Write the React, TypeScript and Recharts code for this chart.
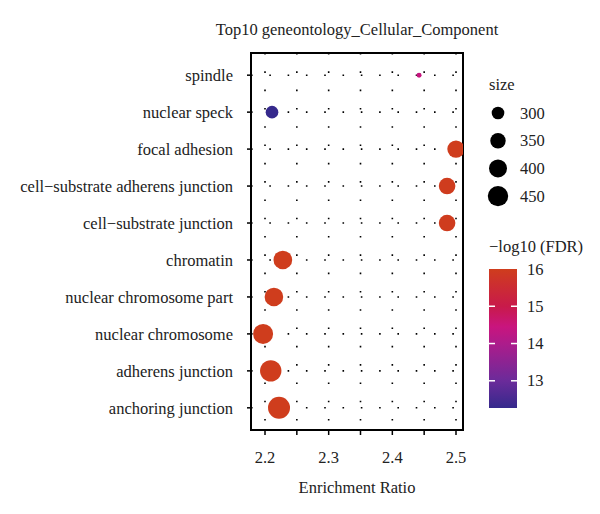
import React from 'react';
import { ScatterChart, Scatter, XAxis, YAxis, CartesianGrid, ReferenceArea, Customized } from 'recharts';

const terms = [
  'spindle',
  'nuclear speck',
  'focal adhesion',
  'cell\u2212substrate adherens junction',
  'cell\u2212substrate junction',
  'chromatin',
  'nuclear chromosome part',
  'nuclear chromosome',
  'adherens junction',
  'anchoring junction',
];
const enrichmentRatio = [2.442, 2.211, 2.5, 2.486, 2.486, 2.228, 2.214, 2.197, 2.209, 2.222];
const geneSetSize = [182, 300, 388, 372, 372, 414, 412, 441, 471, 484];
const negLog10FDR = [14.4, 12.27, 16, 15.98, 15.98, 16, 16, 16, 16, 16];
const xTicks = [2.2, 2.25, 2.3, 2.35, 2.4, 2.45, 2.5];
const xLabelTicks = [2.2, 2.3, 2.4, 2.5];
const sizeLegendValues = [300, 350, 400, 450];
const fdrLegendTicks = [13, 14, 15, 16];
const FDR_MIN = 12.27;
const FDR_MAX = 16;

const colorStops: [number, string][] = [
  [12.27, '#35298c'],
  [13, '#6b2b9a'],
  [14, '#ad1c8b'],
  [14.45, '#c9157e'],
  [15, '#c81a4a'],
  [16, '#cf3d1d'],
];

const FONT = '"Liberation Serif", "DejaVu Serif", serif';
const FS = 16.5;

function hexToRgb(h: string) {
  const n = parseInt(h.slice(1), 16);
  return [(n >> 16) & 255, (n >> 8) & 255, n & 255];
}
function colorFor(v: number) {
  if (v <= colorStops[0][0]) return colorStops[0][1];
  for (let i = 1; i < colorStops.length; i++) {
    if (v <= colorStops[i][0]) {
      const [v0, c0] = colorStops[i - 1];
      const [v1, c1] = colorStops[i];
      const t = (v - v0) / (v1 - v0);
      const a = hexToRgb(c0);
      const b = hexToRgb(c1);
      const m = a.map((x, k) => Math.round(x + (b[k] - x) * t));
      return `rgb(${m[0]},${m[1]},${m[2]})`;
    }
  }
  return colorStops[colorStops.length - 1][1];
}
function radiusFor(size: number) {
  return Math.max(1.5, Math.sqrt(size) - 11);
}

const data = terms.map((term, i) => ({
  term,
  idx: i,
  ratio: enrichmentRatio[i],
  size: geneSetSize[i],
  fdr: negLog10FDR[i],
}));

const Dot = (props: any) => {
  const { cx, cy, payload } = props;
  if (cx == null || cy == null) return null;
  return <circle cx={cx} cy={cy} r={radiusFor(payload.size)} fill={colorFor(payload.fdr)} />;
};

const Legends = () => {
  const barTop = 269;
  const barBottom = 408;
  const barX = 489;
  const barW = 28;
  const yOf = (v: number) => barBottom - ((v - FDR_MIN) / (FDR_MAX - FDR_MIN)) * (barBottom - barTop);
  return (
    <g style={{ fontFamily: FONT }}>
      <text x={357} y={35} textAnchor="middle" fontSize={FS} fill="#222">
        Top10 geneontology_Cellular_Component
      </text>
      <text x={489} y={90} fontSize={FS} fill="#222">size</text>
      {sizeLegendValues.map((v, i) => (
        <g key={v}>
          <circle cx={498} cy={113 + i * 27.7} r={radiusFor(v)} fill="#000" />
          <text x={520} y={113 + i * 27.7 + 5.5} fontSize={FS} fill="#222">{v}</text>
        </g>
      ))}
      <text x={489} y={252} fontSize={FS} fill="#222">{'\u2212log10 (FDR)'}</text>
      <defs>
        <linearGradient id="fdrGrad" x1="0" y1="1" x2="0" y2="0">
          {colorStops.map(([v, c]) => (
            <stop key={v} offset={(v - FDR_MIN) / (FDR_MAX - FDR_MIN)} stopColor={c} />
          ))}
        </linearGradient>
      </defs>
      <rect x={barX} y={barTop} width={barW} height={barBottom - barTop} fill="url(#fdrGrad)" />
      {fdrLegendTicks.map((v) => (
        <g key={v}>
          {v < FDR_MAX && (
            <>
              <line x1={barX} x2={barX + 6} y1={yOf(v)} y2={yOf(v)} stroke="#fff" strokeWidth={1.5} />
              <line x1={barX + barW - 6} x2={barX + barW} y1={yOf(v)} y2={yOf(v)} stroke="#fff" strokeWidth={1.5} />
            </>
          )}
          <text x={527} y={yOf(v) + 5.5} fontSize={FS} fill="#222">{v}</text>
        </g>
      ))}
    </g>
  );
};

export default function App() {
  return (
    <div style={{ position: 'absolute', left: 0, top: 0, width: 600, height: 514, background: '#fff' }}>
      <ScatterChart width={600} height={514} margin={{ top: 53, right: 137, bottom: 24, left: 11 }}>
        <CartesianGrid stroke="#000" strokeWidth={1.6} strokeDasharray="1.6 16.7" />
        <XAxis
          type="number"
          dataKey="ratio"
          domain={[2.178, 2.511]}
          ticks={xTicks}
          allowDataOverflow
          height={60}
          tickSize={5}
          tickMargin={16}
          stroke="#000"
          axisLine={false}
          tick={{ fontSize: FS, fontFamily: FONT, fill: '#222' }}
          tickLine={{ stroke: '#000', strokeWidth: 1.5 }}
          tickFormatter={(v: number) => (xLabelTicks.some((t) => Math.abs(t - v) < 1e-9) ? v.toFixed(1) : '')}
          label={{ value: 'Enrichment Ratio', position: 'insideBottom', offset: -3, fontSize: FS, fontFamily: FONT, fill: '#222' }}
        />
        <YAxis
          type="number"
          dataKey="idx"
          reversed
          domain={[-0.6, 9.6]}
          ticks={terms.map((_, i) => i)}
          interval={0}
          width={240}
          tickSize={4}
          tickMargin={14}
          axisLine={false}
          tick={{ fontSize: FS, fontFamily: FONT, fill: '#222' }}
          tickLine={{ stroke: '#000', strokeWidth: 1.5 }}
          tickFormatter={(v: number) => terms[v] ?? ''}
        />
        <Scatter data={data} shape={<Dot />} isAnimationActive={false} />
        <ReferenceArea
          x1={2.178}
          x2={2.511}
          y1={-0.6}
          y2={9.6}
          fill="none"
          fillOpacity={0}
          stroke="#000"
          strokeWidth={2}
          ifOverflow="extendDomain"
        />
        <Customized component={Legends} />
      </ScatterChart>
    </div>
  );
}
